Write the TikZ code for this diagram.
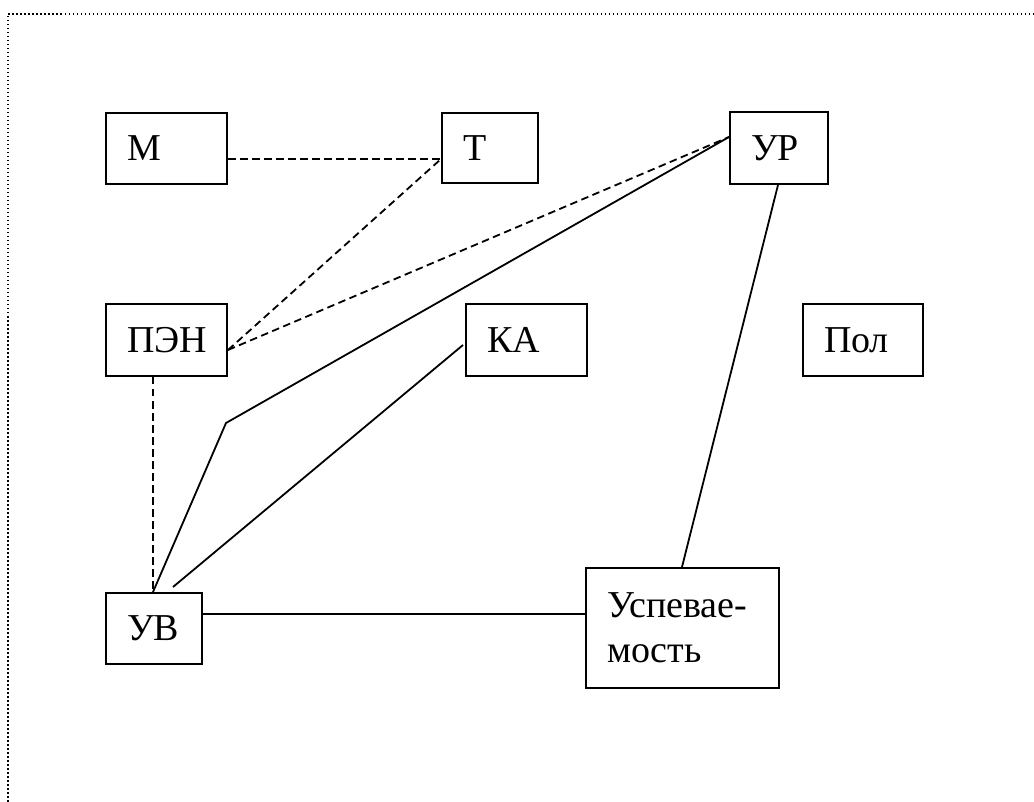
\documentclass[tikz,border=0pt]{standalone}
\usepackage{fontspec}
\setmainfont{Liberation Serif}
\usetikzlibrary{calc}
\begin{document}
\begin{tikzpicture}[x=1pt,y=-1pt,
  tbox/.style 2 args={draw, line width=2pt, anchor=north west, inner xsep=21pt, inner ysep=0pt,
    minimum width=#1pt, minimum height=#2pt, text width=#1pt-42pt, align=left,
    font=\fontsize{38}{45}\selectfont},
  solidlink/.style={line width=1.8pt},
  dashlink/.style={line width=1.8pt, dash pattern=on 7.5pt off 4.5pt},
  framedots/.style={line width=1.7pt, dash pattern=on 1.5pt off 2.5pt}]
\useasboundingbox (0,0) rectangle (1034,802);
% dotted frame (only top and left edges fall on the page)
\draw[framedots] (1034,14) -- (8,14) -- (8,802);
% boxes
\node[tbox={121}{71}] (M)   at (105,112) {М};
\node[tbox={96}{70}]  (T)   at (441,112) {Т};
\node[tbox={98}{72}]  (UR)  at (729,111) {УР};
\node[tbox={121}{72}] (PEN) at (105,303) {ПЭН};
\node[tbox={121}{72}] (KA)  at (465,303) {КА};
\node[tbox={120}{72}] (Pol) at (802,303) {Пол};
\node[tbox={96}{71}]  (UV)  at (105,592) {УВ};
\node[tbox={193}{120}] (Usp) at (585,567) {Успевае-\\мость};
% dashed links
\coordinate (Tin)  at ($(T.north west)+(0,47)$);
\coordinate (Pout) at ($(PEN.north east)+(0,47)$);
\coordinate (URin) at ($(UR.north west)+(0,26)$);
\draw[dashlink] ($(M.north east)+(0,47)$) -- (Tin);
\draw[dashlink] (Pout) -- (Tin);
\draw[dashlink] (Pout) -- (URin);
\draw[dashlink] ($(PEN.south west)+(48,0)$) -- ($(UV.north west)+(48,0)$);
% solid links
\coordinate (bend) at (226,423);
\draw[solidlink] (URin) -- (bend) -- ($(UV.north west)+(48,0)$);
\draw[solidlink] ($(KA.north west)+(-2,42)$) -- ($(UV.north west)+(68,-5)$);
\draw[solidlink] ($(UR.south west)+(49,0)$) -- ($(Usp.north west)+(97,0)$);
\draw[solidlink] ($(UV.north east)+(0,22)$) -- ($(Usp.north west)+(0,47)$);
\end{tikzpicture}
\end{document}
